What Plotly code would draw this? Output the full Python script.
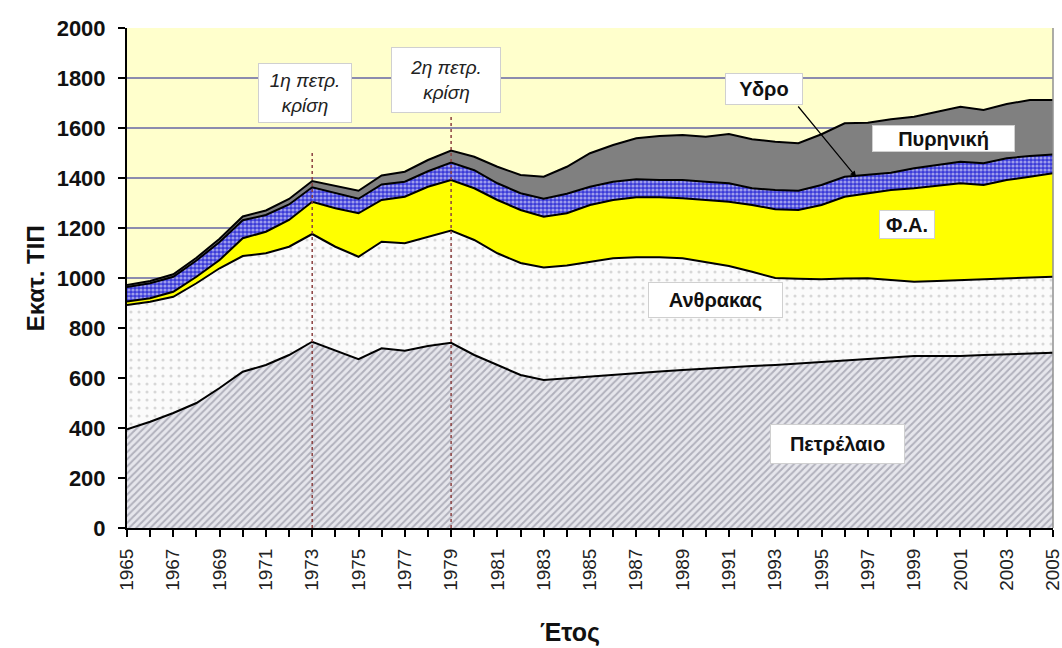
import plotly.graph_objects as go

years = list(range(1965, 2006))

oil = [395, 425, 460, 500, 560, 625, 652, 692, 745, 710, 675, 719, 709, 728, 741, 692, 652, 612, 592, 599,
       605, 615, 621, 626, 632, 638, 645, 648, 652, 658, 665, 670, 675, 682, 688, 688, 688, 692, 696, 699, 701]
coal = [497, 480, 465, 479, 479, 463, 447, 433, 431, 415, 410, 426, 430, 435, 449, 460, 447, 448, 450, 451,
        460, 464, 462, 457, 447, 427, 403, 377, 348, 339, 330, 328, 324, 310, 297, 300, 304, 303, 303, 304, 304]
gas = [14, 14, 20, 26, 33, 71, 86, 107, 129, 154, 174, 167, 186, 202, 202, 207, 213, 212, 203, 209,
       227, 233, 240, 240, 240, 247, 257, 267, 275, 275, 297, 327, 340, 360, 374, 380, 387, 377, 393, 402, 414]
hydro = [58, 60, 60, 65, 72, 72, 67, 62, 58, 60, 58, 62, 60, 62, 70, 72, 67, 67, 72, 78,
         73, 73, 72, 69, 73, 73, 74, 67, 77, 77, 80, 80, 73, 69, 80, 84, 86, 87, 87, 83, 75]
nuclear = [8, 9, 10, 11, 13, 15, 18, 22, 25, 28, 32, 36, 40, 45, 48, 54, 66, 73, 88, 108,
           134, 147, 164, 176, 180, 180, 197, 196, 193, 190, 203, 214, 209, 214, 206, 213, 220, 213, 217, 224, 218]

tick_years = years
tick_text = [str(y) if (y - 1965) % 2 == 0 else "" for y in years]
y_ticks = [0, 200, 400, 600, 800, 1000, 1200, 1400, 1600, 1800, 2000]

FONT = "Liberation Sans, Arial, sans-serif"

fig = go.Figure()
line = dict(color="black", width=2)

fig.add_trace(go.Scatter(x=years, y=oil, stackgroup="s", mode="lines", line=line, name="Πετρέλαιο",
                         fillpattern=dict(shape="/", bgcolor="#e6e6ec", fgcolor="#7c7c8c", size=5, solidity=0.4)))
fig.add_trace(go.Scatter(x=years, y=coal, stackgroup="s", mode="lines", line=line, name="Ανθρακας",
                         fillpattern=dict(shape=".", bgcolor="#fbfbfb", fgcolor="#b4b4b4", size=8, solidity=0.12)))
fig.add_trace(go.Scatter(x=years, y=gas, stackgroup="s", mode="lines", line=line, name="Φ.Α.",
                         fillcolor="#ffff00"))
fig.add_trace(go.Scatter(x=years, y=hydro, stackgroup="s", mode="lines", line=line, name="Υδρο",
                         fillpattern=dict(shape=".", bgcolor="#3a3ad8", fgcolor="#ffffff", size=4, solidity=0.5)))
fig.add_trace(go.Scatter(x=years, y=nuclear, stackgroup="s", mode="lines", line=line, name="Πυρηνική",
                         fillcolor="#808080"))

# crisis vertical lines
fig.add_shape(type="line", x0=1973, x1=1973, y0=0, y1=1512, line=dict(color="#8b4040", width=1.5, dash="dot"), layer="above")
fig.add_shape(type="line", x0=1979, x1=1979, y0=0, y1=1655, line=dict(color="#8b4040", width=1.5, dash="dot"), layer="above")
# right border
fig.add_shape(type="line", xref="paper", yref="paper", x0=1, x1=1, y0=0, y1=1, line=dict(color="#909090", width=1.5), layer="above")

box = dict(bgcolor="white", bordercolor="#d0d0d0", borderwidth=1, showarrow=False)
fig.add_annotation(x=1972.7, y=1740, text="<i>1η πετρ.<br>κρίση</i>", font=dict(family=FONT, size=19, color="#222"),
                   width=90, height=56, **box)
fig.add_annotation(x=1978.8, y=1792, text="<i>2η πετρ.<br>κρίση</i>", font=dict(family=FONT, size=19, color="#222"),
                   width=106, height=62, **box)

lab = dict(family=FONT, size=20, color="#111", weight="bold")
fig.add_annotation(x=1992.5, y=1756, text="Υδρο", font=lab, width=74, height=28, **box)
fig.add_annotation(x=2000.25, y=1560, text="Πυρηνική", font=lab, width=139, height=23, **box)
fig.add_annotation(x=1998.7, y=1216, text="Φ.Α.", font=lab, width=52, height=25, **box)
fig.add_annotation(x=1990.4, y=912, text="Ανθρακας", font=lab, width=131, height=32, **box)
fig.add_annotation(x=1995.7, y=336, text="Πετρέλαιο", font=lab, width=131, height=36, **box)

fig.add_annotation(x=1996.5, y=1404, ax=1993.94, ay=1692, axref="x", ayref="y", text="",
                   showarrow=True, arrowhead=2, arrowsize=1, arrowwidth=1.2, arrowcolor="black")

fig.add_annotation(xref="paper", yref="paper", x=-0.099, y=0.5, xanchor="center", yanchor="middle",
                   text="Εκατ. ΤΙΠ", textangle=-90, showarrow=False,
                   font=dict(family=FONT, size=24, color="#111", weight="bold"))
fig.add_annotation(xref="paper", yref="paper", x=0.478, y=-0.208, xanchor="center", yanchor="middle",
                   text="Έτος", showarrow=False,
                   font=dict(family=FONT, size=25, color="#111", weight="bold"))

fig.update_layout(
    width=1062, height=648,
    margin=dict(l=127, r=9, t=28, b=120),
    paper_bgcolor="white",
    plot_bgcolor="#ffffcc",
    showlegend=False,
    font=dict(family=FONT),
    xaxis=dict(range=[1965, 2005], tickmode="array", tickvals=tick_years, ticktext=tick_text,
               tickangle=-90, ticks="outside", ticklen=7, tickwidth=1.5, tickcolor="black",
               showline=True, linecolor="black", linewidth=2, showgrid=False, zeroline=False,
               automargin=False, ticklabeloverflow="allow", ticklabelstandoff=4,
               tickfont=dict(family=FONT, size=19, color="#222")),
    yaxis=dict(range=[0, 2000], tickmode="array", tickvals=y_ticks,
               ticks="outside", ticklen=7, tickwidth=1.5, tickcolor="black",
               showline=True, linecolor="black", linewidth=2, showgrid=True, gridcolor="#8c8cae", gridwidth=1.5,
               automargin=False, zeroline=False, ticklabelstandoff=8,
               tickfont=dict(family=FONT, size=22, color="#111", weight="bold")),
)

fig.write_html("out.html", config={"displayModeBar": False},
               post_script="document.body.style.margin='0';document.body.style.overflow='hidden';")
